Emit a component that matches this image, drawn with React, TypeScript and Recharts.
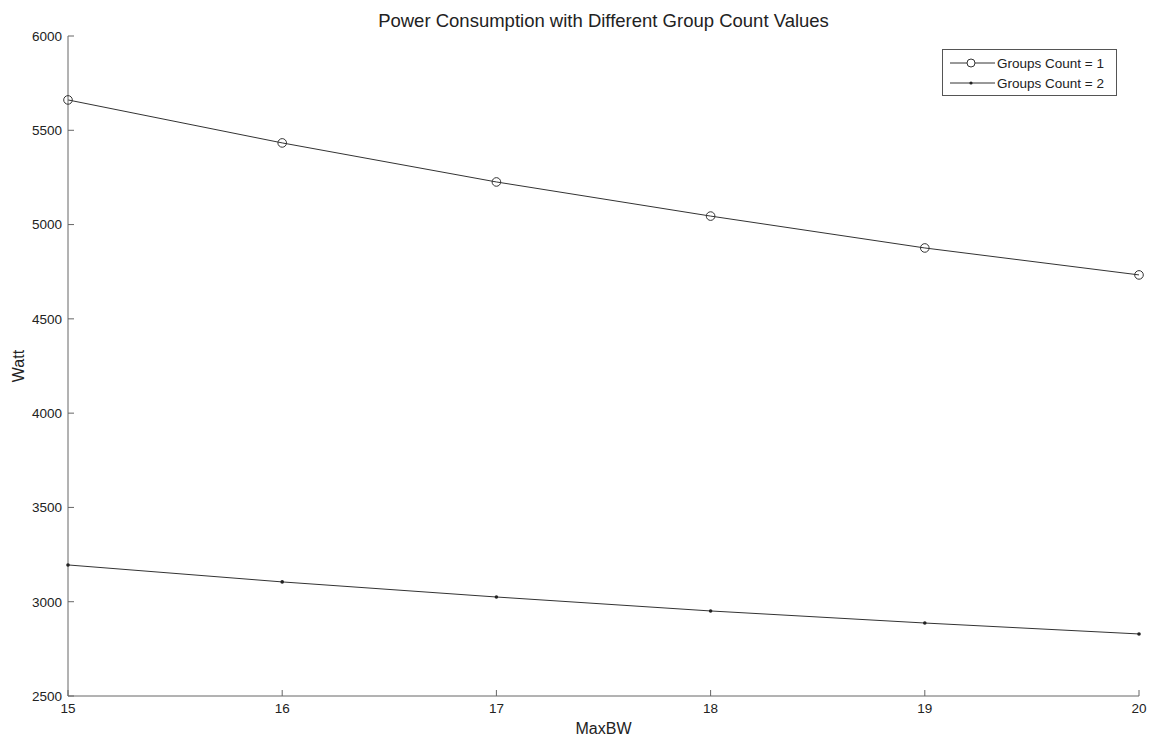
import React from 'react';
import { LineChart, Line, XAxis, YAxis } from 'recharts';

const maxBW = [15, 16, 17, 18, 19, 20];
const groups1 = [5661, 5433, 5226, 5045, 4876, 4733];
const groups2 = [3195, 3105, 3025, 2951, 2887, 2829];
const xTicks = [15, 16, 17, 18, 19, 20];
const yTicks = [2500, 3000, 3500, 4000, 4500, 5000, 5500, 6000];
const seriesNames = ['Groups Count = 1', 'Groups Count = 2'];

const data = maxBW.map((x, i) => ({ x, g1: groups1[i], g2: groups2[i] }));

const FONT = 'Liberation Sans, Arial, sans-serif';
const AXIS = '#666';
const TEXT = '#222';

const LegendBox = () => (
  <div
    style={{
      position: 'absolute',
      left: 942,
      top: 49,
      border: '1px solid #555',
      background: '#fff',
      width: 175,
      height: 47,
      boxSizing: 'border-box',
      padding: '3px 0 0 7px',
      fontFamily: FONT,
      fontSize: 13.5,
      color: TEXT,
    }}
  >
    {seriesNames.map((n, i) => (
      <div key={n} style={{ display: 'flex', alignItems: 'center', height: 20 }}>
        <svg width={45} height={12} style={{ marginRight: 2 }}>
          <line x1={0} y1={6} x2={45} y2={6} stroke="#333" strokeWidth={1} />
          {i === 0 ? (
            <circle cx={21} cy={6} r={4} fill="#fff" stroke="#333" strokeWidth={1} />
          ) : (
            <circle cx={21} cy={6} r={1.6} fill="#222" />
          )}
        </svg>
        <span>{n}</span>
      </div>
    ))}
  </div>
);

const OpenDot = (props: any) => {
  const { cx, cy } = props;
  return <circle cx={cx} cy={cy} r={4.3} fill="none" stroke="#333" strokeWidth={1} />;
};
const SmallDot = (props: any) => {
  const { cx, cy } = props;
  return <circle cx={cx} cy={cy} r={1.8} fill="#222" />;
};

export default function App() {
  return (
    <div style={{ position: 'absolute', left: 0, top: 0, width: 1149, height: 742, background: '#fff' }}>
      <div
        style={{
          position: 'absolute',
          left: 0,
          top: 10,
          width: 1207,
          textAlign: 'center',
          fontFamily: FONT,
          fontSize: 18.5,
          color: TEXT,
          whiteSpace: 'nowrap',
        }}
      >
        Power Consumption with Different Group Count Values
      </div>
      <LineChart
        width={1149}
        height={742}
        data={data}
        margin={{ top: 36, right: 10, left: 0, bottom: 0 }}
        style={{ fontFamily: FONT }}
      >
        <XAxis
          dataKey="x"
          type="number"
          domain={[15, 20]}
          ticks={xTicks}
          height={46}
          stroke={AXIS}
          tickSize={-6}
          tickMargin={13}
          tick={{ fill: TEXT, fontSize: 13.5 }}
          label={{ value: 'MaxBW', position: 'insideBottom', offset: 8, fill: TEXT, fontSize: 16 }}
        />
        <XAxis
          xAxisId="top"
          dataKey="x"
          type="number"
          orientation="top"
          domain={[15, 20]}
          ticks={xTicks}
          height={0}
          stroke={AXIS}
          tickSize={-6}
          tick={false}
        />
        <YAxis
          type="number"
          domain={[2500, 6000]}
          ticks={yTicks}
          width={68}
          stroke={AXIS}
          tickSize={-6}
          tickMargin={12}
          tick={{ fill: TEXT, fontSize: 13.5 }}
          label={{
            value: 'Watt',
            angle: -90,
            position: 'insideLeft',
            offset: 18,
            fill: TEXT,
            fontSize: 16,
            style: { textAnchor: 'middle' },
          }}
        />
        <YAxis
          yAxisId="right"
          orientation="right"
          type="number"
          domain={[2500, 6000]}
          ticks={yTicks}
          width={0}
          stroke={AXIS}
          tickSize={-6}
          tick={false}
        />
        <Line
          type="linear"
          dataKey="g1"
          name={seriesNames[0]}
          stroke="#333"
          strokeWidth={1}
          dot={<OpenDot />}
          isAnimationActive={false}
        />
        <Line
          type="linear"
          dataKey="g2"
          name={seriesNames[1]}
          stroke="#333"
          strokeWidth={1}
          dot={<SmallDot />}
          isAnimationActive={false}
        />
      </LineChart>
      <LegendBox />
    </div>
  );
}
